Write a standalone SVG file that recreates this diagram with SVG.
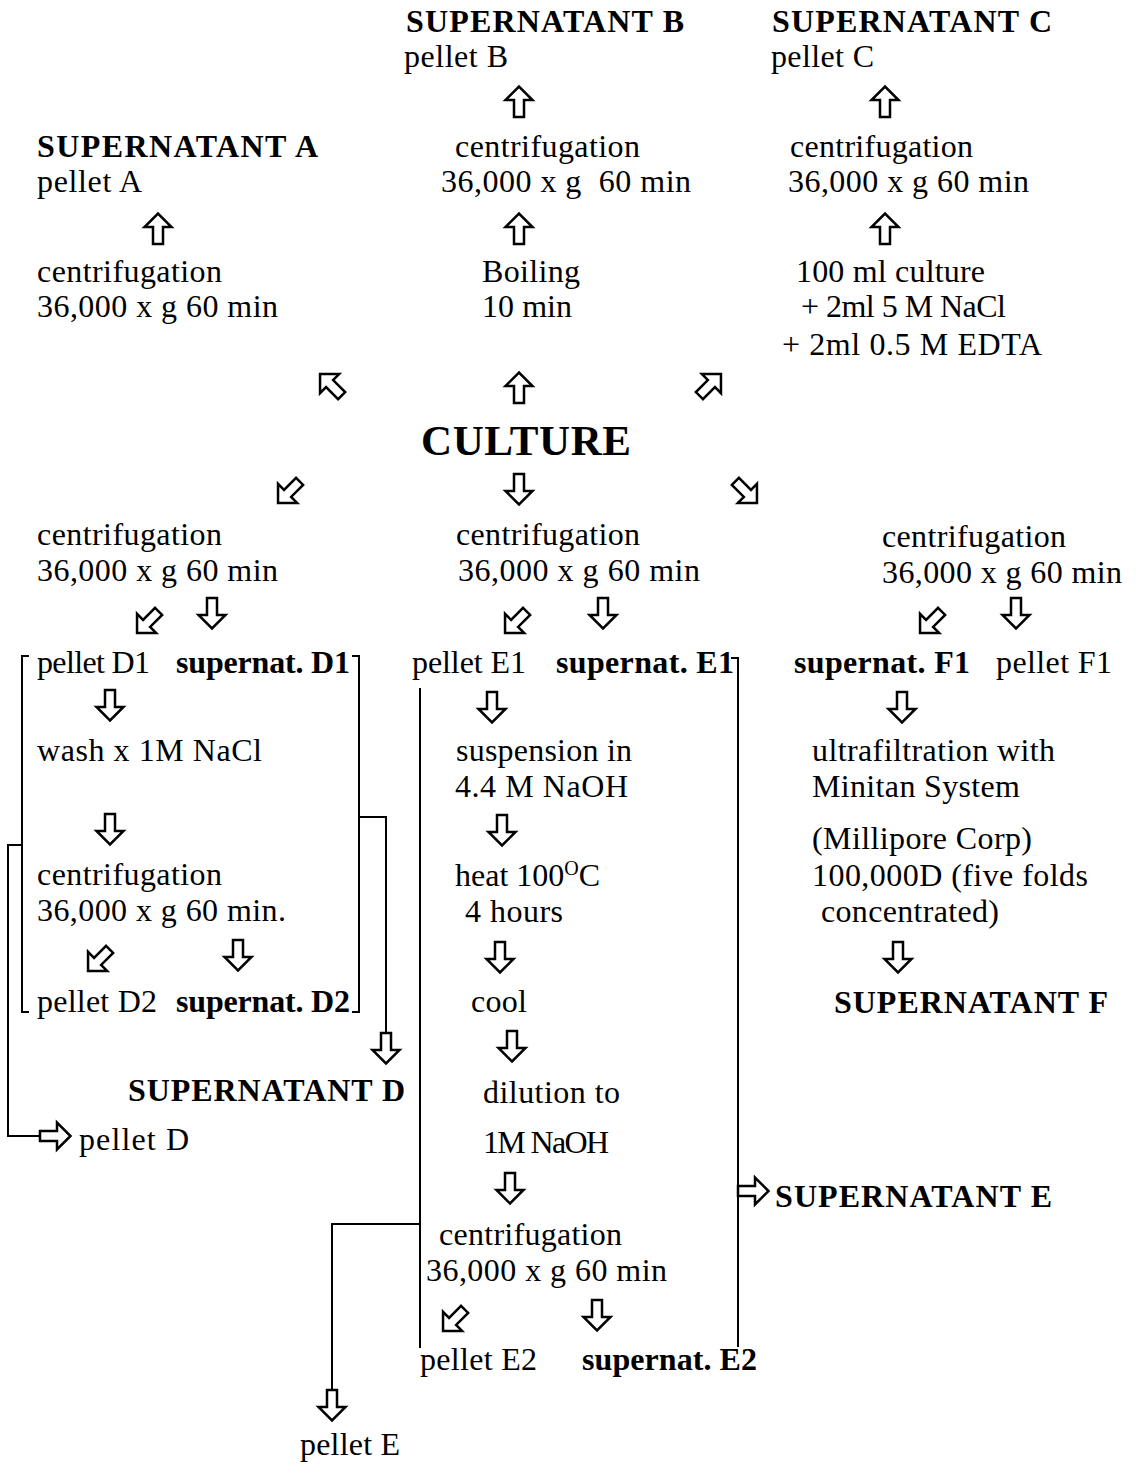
<svg xmlns="http://www.w3.org/2000/svg" width="1136" height="1466" viewBox="0 0 1136 1466">
<style>
text{font-family:"Liberation Serif","Times New Roman",serif;font-size:32px;fill:#000}
.b{font-weight:bold}
.big{font-size:43px;font-weight:bold}
.ln{fill:none;stroke:#000;stroke-width:2}
.ar{fill:#fff;stroke:#000;stroke-width:2.5;stroke-linejoin:miter}
</style>
<defs>
<path id="ad" d="M-5,-15 H5 V2 H13.5 L0,15.5 L-13.5,2 H-5 Z"/>
</defs>
<rect width="1136" height="1466" fill="#fff"/>

<g id="supB">
<text class="b" x="406" y="32" textLength="278">SUPERNATANT B</text>
<text x="404" y="67" textLength="104">pellet B</text>
</g>
<g id="supC">
<text class="b" x="772" y="32" textLength="280">SUPERNATANT C</text>
<text x="771" y="67" textLength="103">pellet C</text>
</g>
<g id="supA">
<text class="b" x="37" y="157" textLength="281">SUPERNATANT A</text>
<text x="37" y="192" textLength="105">pellet A</text>
</g>
<g id="centB">
<text x="455" y="157" textLength="185">centrifugation</text>
<text x="441" y="192" textLength="250" xml:space="preserve">36,000 x g  60 min</text>
</g>
<g id="centC">
<text x="790" y="157" textLength="183">centrifugation</text>
<text x="788" y="192" textLength="241">36,000 x g 60 min</text>
</g>
<g id="centA">
<text x="37" y="282" textLength="185">centrifugation</text>
<text x="37" y="317" textLength="241">36,000 x g 60 min</text>
</g>
<g id="boil">
<text x="482" y="282" textLength="98">Boiling</text>
<text x="482" y="317" textLength="90">10 min</text>
</g>
<g id="edta">
<text x="796" y="282" textLength="189">100 ml culture</text>
<text x="801" y="317" textLength="205">+ 2ml 5 M NaCl</text>
<text x="782" y="355" textLength="260">+ 2ml 0.5 M EDTA</text>
</g>
<g id="culture">
<text class="big" x="421" y="455" textLength="210">CULTURE</text>
</g>
<g id="centD">
<text x="37" y="545" textLength="185">centrifugation</text>
<text x="37" y="581" textLength="241">36,000 x g 60 min</text>
</g>
<g id="centE">
<text x="456" y="545" textLength="184">centrifugation</text>
<text x="458" y="581" textLength="242">36,000 x g 60 min</text>
</g>
<g id="centF">
<text x="882" y="547" textLength="184">centrifugation</text>
<text x="882" y="583" textLength="240">36,000 x g 60 min</text>
</g>
<g id="pelletD1"><text x="37" y="673" textLength="113">pellet D1</text></g>
<g id="supD1"><text class="b" x="176" y="673" textLength="174">supernat. D1</text></g>
<g id="pelletE1"><text x="412" y="673" textLength="114">pellet E1</text></g>
<g id="supE1"><text class="b" x="556" y="673" textLength="178">supernat. E1</text></g>
<g id="supF1"><text class="b" x="794" y="673" textLength="176">supernat. F1</text></g>
<g id="pelletF1"><text x="996" y="673" textLength="116">pellet F1</text></g>
<g id="wash"><text x="37" y="761" textLength="225">wash x 1M NaCl</text></g>
<g id="centD2">
<text x="37" y="885" textLength="185">centrifugation</text>
<text x="37" y="921" textLength="249">36,000 x g 60 min.</text>
</g>
<g id="pelletD2"><text x="37" y="1012" textLength="120">pellet D2</text></g>
<g id="supD2"><text class="b" x="176" y="1012" textLength="174">supernat. D2</text></g>
<g id="supD"><text class="b" x="128" y="1101" textLength="277">SUPERNATANT D</text></g>
<g id="pelletD"><text x="79" y="1150" textLength="110">pellet D</text></g>
<g id="susp">
<text x="456" y="761" textLength="176">suspension in</text>
<text x="455" y="797" textLength="173">4.4 M NaOH</text>
</g>
<g id="heat">
<text x="455" y="886">heat 100<tspan font-size="20" dy="-11">O</tspan><tspan dy="11">C</tspan></text>
<text x="465" y="922" textLength="98">4 hours</text>
</g>
<g id="cool"><text x="471" y="1012" textLength="56">cool</text></g>
<g id="dilution">
<text x="483" y="1103" textLength="137">dilution to</text>
<text x="483" y="1153" textLength="126">1M NaOH</text>
</g>
<g id="centE2">
<text x="439" y="1245" textLength="183">centrifugation</text>
<text x="426" y="1281" textLength="241">36,000 x g 60 min</text>
</g>
<g id="pelletE2"><text x="420" y="1370" textLength="117">pellet E2</text></g>
<g id="supE2"><text class="b" x="582" y="1370" textLength="175">supernat. E2</text></g>
<g id="pelletE"><text x="300" y="1455" textLength="100">pellet E</text></g>
<g id="supE"><text class="b" x="775" y="1207" textLength="277">SUPERNATANT E</text></g>
<g id="ultra">
<text x="812" y="761" textLength="243">ultrafiltration with</text>
<text x="812" y="797" textLength="208">Minitan System</text>
<text x="812" y="849" textLength="220">(Millipore Corp)</text>
<text x="812" y="886" textLength="276">100,000D (five folds</text>
<text x="821" y="922" textLength="178">concentrated)</text>
</g>
<g id="supF"><text class="b" x="834" y="1013" textLength="274">SUPERNATANT F</text></g>

<g id="connectors">
<path class="ln" d="M29,656 H22 V1012 H29"/>
<path class="ln" d="M22,845 H8 V1136 H40"/>
<path class="ln" d="M352,656 H359 V1012 H352"/>
<path class="ln" d="M359,817 H386 V1033"/>
<path class="ln" d="M420,688 V1348"/>
<path class="ln" d="M420,1224 H332 V1390"/>
<path class="ln" d="M731,658 H738 V1347"/>
<use href="#ad" class="ar" transform="translate(519,102) rotate(180)"/>
<use href="#ad" class="ar" transform="translate(885,102) rotate(180)"/>
<use href="#ad" class="ar" transform="translate(158,229) rotate(180)"/>
<use href="#ad" class="ar" transform="translate(519,229) rotate(180)"/>
<use href="#ad" class="ar" transform="translate(885,229) rotate(180)"/>
<use href="#ad" class="ar" transform="translate(331,385) rotate(135)"/>
<use href="#ad" class="ar" transform="translate(519,388) rotate(180)"/>
<use href="#ad" class="ar" transform="translate(710,385) rotate(-135)"/>
<use href="#ad" class="ar" transform="translate(289,492) rotate(45)"/>
<use href="#ad" class="ar" transform="translate(519,489)"/>
<use href="#ad" class="ar" transform="translate(746,492) rotate(-45)"/>
<use href="#ad" class="ar" transform="translate(148,622) rotate(45)"/>
<use href="#ad" class="ar" transform="translate(212,613)"/>
<use href="#ad" class="ar" transform="translate(516,622) rotate(45)"/>
<use href="#ad" class="ar" transform="translate(603,613)"/>
<use href="#ad" class="ar" transform="translate(931,622) rotate(45)"/>
<use href="#ad" class="ar" transform="translate(1016,613)"/>
<use href="#ad" class="ar" transform="translate(110,705)"/>
<use href="#ad" class="ar" transform="translate(110,829)"/>
<use href="#ad" class="ar" transform="translate(99,960) rotate(45)"/>
<use href="#ad" class="ar" transform="translate(238,955)"/>
<use href="#ad" class="ar" transform="translate(386,1048)"/>
<use href="#ad" class="ar" transform="translate(55,1136) rotate(-90)"/>
<use href="#ad" class="ar" transform="translate(492,707)"/>
<use href="#ad" class="ar" transform="translate(502,830)"/>
<use href="#ad" class="ar" transform="translate(500,957)"/>
<use href="#ad" class="ar" transform="translate(512,1046)"/>
<use href="#ad" class="ar" transform="translate(510,1188)"/>
<use href="#ad" class="ar" transform="translate(454,1320) rotate(45)"/>
<use href="#ad" class="ar" transform="translate(597,1315)"/>
<use href="#ad" class="ar" transform="translate(332,1405)"/>
<use href="#ad" class="ar" transform="translate(753,1191) rotate(-90)"/>
<use href="#ad" class="ar" transform="translate(902,707)"/>
<use href="#ad" class="ar" transform="translate(898,957)"/>
</g>
</svg>
